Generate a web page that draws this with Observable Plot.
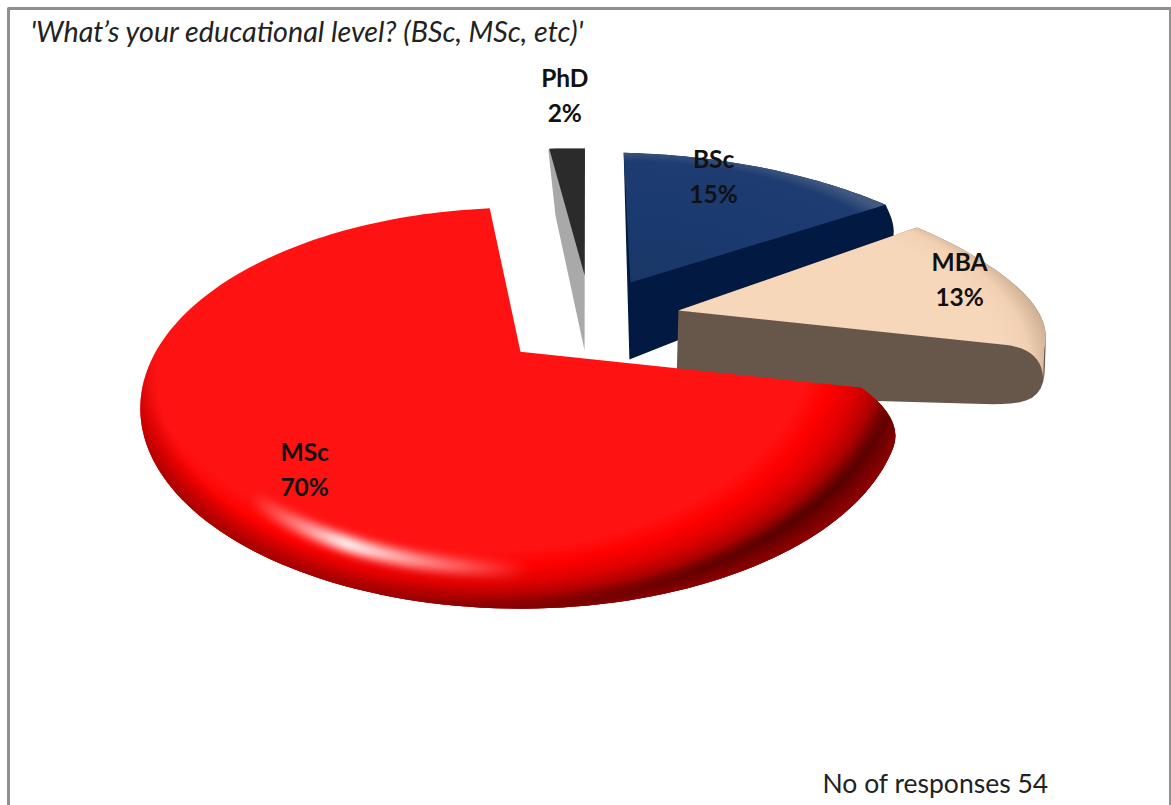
<!DOCTYPE html>
<html>
<head>
<meta charset="utf-8">
<script src="https://cdn.jsdelivr.net/npm/d3@7"></script>
<script src="https://cdn.jsdelivr.net/npm/@observablehq/plot@0.6"></script>
<style>
  html, body { margin: 0; padding: 0; background: #fff; overflow: hidden; }
</style>
</head>
<body>
<div id="chart"></div>
<script>
// Survey answers
const categories = ["BSc", "MBA", "MSc", "PhD"];
const shares = [15, 13, 70, 2];
const responses = 54;
const question = "'What\u2019s your educational level? (BSc, MSc, etc)'";

// Ground-plane perspective: u runs right, v runs away from the viewer
const DEPTH = 3.55, RISE = 2326, HORIZON = -304, FOCAL = 1295, CENTER_X = 520;
const project = (u, v) => ({
  x: CENTER_X + FOCAL * u / (DEPTH + v),
  y: HORIZON + RISE / (DEPTH + v)
});
const rad = (deg) => deg * Math.PI / 180;
const polar = (o, r, deg) => project(o.u + r * Math.sin(rad(deg)), o.v + r * Math.cos(rad(deg)));

// Explosion offset, radius, body and label placement of each slice
const sliceLayout = {
  BSc: {u: 0.337, v: 0.419, r: 1.13, turn: 1,
        foot: {u: 0.295, v: -0.042, arcs: [[1.08, 54, 54]]}, bulge: 8,
        label: [0.948, 23.9], top: "url(#bscTop)", side: "#021a42"},
  MBA: {u: 0.462, v: 0.238, r: 1.06, turn: -0.5, roundEnd: [0.055, 22], shoulder: 0.85,
        foot: {u: 0.4, v: -0.222, arcs: [[0.8, 88, 93]]}, bulge: 25,
        label: [0.91, 77.6], top: "url(#mbaTop)", side: "#67574a"},
  MSc: {u: 0, v: 0, r: 1, turn: -1.5, round: [0.095, 15],
        label: [0.74, 222.6], top: "#ff1212"},
  PhD: {u: 0.199, v: 0.467, r: 1.13, turn: 0.4,
        foot: {u: 0.176, v: 0.007, arcs: [[0.927, -3.4, -3.4], [1.567, -2.4, -2.4]]}, bulge: 0,
        label: [1.8, 0], top: "#2b2b2b", side: "#a9a9a9"}
};

// Turn the shares into clockwise angles measured from the top
const FIRST_ANGLE = 2.5;
let running = FIRST_ANGLE;
const slices = categories.map((name, i) => {
  const span = shares[i] * 3.6;
  const layout = sliceLayout[name];
  const slice = {name, share: shares[i], a0: running + layout.turn, a1: running + span + layout.turn, ...layout};
  running += span;
  return slice;
});

// Points along a rim; round eases the radius in at the first angle, roundEnd at the last
function arcPoints(o, r, a0, a1, round, roundEnd) {
  const steps = Math.max(2, Math.ceil(Math.abs(a1 - a0) / 1.5));
  return d3.range(steps + 1).map((k) => {
    const a = a0 + (a1 - a0) * k / steps;
    let radius = r;
    if (round) {
      const t = 1 - (a - a0) / round[1];
      if (t > 0) radius -= round[0] * t * t;
    }
    if (roundEnd) {
      const t = 1 - (a1 - a) / roundEnd[1];
      if (t > 0) radius -= roundEnd[0] * t * t;
    }
    return polar(o, radius, a);
  });
}

// The rounded end between the top face and the foot, as points running downward
function endCurve(s) {
  const top = arcPoints(s, s.r, s.a0, s.a1, s.round, s.roundEnd);
  const A = top.at(-1);
  const B = arcPoints(s.foot, ...s.foot.arcs[0]).at(-1);
  const len = Math.hypot(B.x - A.x, B.y - A.y);
  const nx = (B.y - A.y) / len, ny = (A.x - B.x) / len;
  return d3.range(1, 12).map((k) => {
    const t = k / 12, b = s.bulge * Math.sin(Math.PI * t);
    return {x: A.x + (B.x - A.x) * t + nx * b, y: A.y + (B.y - A.y) * t + ny * b};
  });
}

function topFace(s) {
  const apex = project(s.u, s.v);
  const pts = [apex, ...arcPoints(s, s.r, s.a0, s.a1, s.round, s.roundEnd)];
  if (s.shoulder) {
    // The face wraps over the rounded end and comes back along the cut edge
    const A = pts.at(-1);
    const tip = endCurve(s)[3];
    const edge = polar(s, s.r * s.shoulder, s.a1);
    pts.push(tip);
    d3.range(1, 13).forEach((k) => {
      const t = k / 12, m = 1 - t;
      pts.push({x: m * m * tip.x + 2 * m * t * A.x + t * t * edge.x,
                y: m * m * tip.y + 2 * m * t * A.y + t * t * edge.y});
    });
  }
  return [...pts, apex];
}

// Outline of the whole solid: the top face, its foot and the rounded end between them
function body(s) {
  const top = arcPoints(s, s.r, s.a0, s.a1, s.round, s.roundEnd);
  const footArcs = s.foot.arcs.flatMap(([r, a0, a1]) => arcPoints(s.foot, r, a0, a1));
  const pts = [project(s.u, s.v), ...top, project(s.foot.u, s.foot.v), ...footArcs];
  if (s.bulge) pts.push(...endCurve(s));
  const hull = d3.polygonHull(pts.map((p) => [p.x, p.y])).map(([x, y]) => ({x, y}));
  return [...hull, hull[0]];
}

function labelPoint(s) {
  const p = polar(s, s.label[0], s.label[1]);
  return {...p, text: `${s.name}\n${s.share}%`};
}

const byName = Object.fromEntries(slices.map((s) => [s.name, s]));
const shape = (points, fill) => Plot.line(points, {x: "x", y: "y", fill, stroke: "none", curve: "linear"});

// Gradients used by the faces
function gradients() {
  const svgNS = "http://www.w3.org/2000/svg";
  const defs = document.createElementNS(svgNS, "defs");
  defs.innerHTML = `
    <radialGradient id="bscTop" gradientUnits="userSpaceOnUse" cx="0" cy="0" r="1" gradientTransform="translate(630 334) scale(340 184)">
      <stop offset="0" stop-color="#18355f"/><stop offset="0.7" stop-color="#1b3a70"/><stop offset="0.94" stop-color="#1e3c72"/><stop offset="1" stop-color="#42597f"/>
    </radialGradient>
    <radialGradient id="mbaTop" gradientUnits="userSpaceOnUse" cx="0" cy="0" r="1" gradientTransform="translate(680 361) scale(370 184)">
      <stop offset="0.86" stop-color="#f7d7ba"/><stop offset="0.94" stop-color="#f2d1b3"/><stop offset="1" stop-color="#cfb195"/>
    </radialGradient>
    <radialGradient id="rim" gradientUnits="userSpaceOnUse" cx="0" cy="0" r="1" gradientTransform="translate(475 340) scale(430 270)">
      <stop offset="0.78" stop-color="#ff0000" stop-opacity="0"/>
      <stop offset="0.84" stop-color="#ff0000" stop-opacity="1"/>
      <stop offset="0.9" stop-color="#e00000" stop-opacity="1"/>
      <stop offset="0.95" stop-color="#b00000" stop-opacity="1"/>
      <stop offset="1" stop-color="#4a0000" stop-opacity="1"/>
    </radialGradient>
    <radialGradient id="rimSoft" gradientUnits="userSpaceOnUse" cx="0" cy="0" r="1" gradientTransform="translate(520 370) scale(395 240)">
      <stop offset="0.92" stop-color="#b00000" stop-opacity="0"/>
      <stop offset="1" stop-color="#a00000" stop-opacity="0.75"/>
    </radialGradient>
    <linearGradient id="shine" gradientUnits="userSpaceOnUse" x1="250" y1="0" x2="530" y2="0">
      <stop offset="0" stop-color="#fff" stop-opacity="0"/>
      <stop offset="0.34" stop-color="#fff" stop-opacity="1"/>
      <stop offset="0.62" stop-color="#fff" stop-opacity="0.55"/>
      <stop offset="1" stop-color="#fff" stop-opacity="0"/>
    </linearGradient>`;
  return defs;
}

const phd = byName.PhD, bsc = byName.BSc, mba = byName.MBA, msc = byName.MSc;
const FONT = "Lato, 'Open Sans', sans-serif";

// Three-sided grey frame, open at the bottom of the page
const frameSides = [{x: 8, y: 805}, {x: 8, y: 8}, {x: 1170, y: 8}, {x: 1170, y: 805}];

const chart = Plot.plot({
  width: 1171,
  height: 805,
  margin: 0,
  x: {domain: [0, 1171], range: [0, 1171], axis: null},
  y: {domain: [0, 805], range: [0, 805], axis: null},
  style: {background: "#fff", fontFamily: FONT},
  marks: [
    gradients,
    Plot.line(frameSides, {x: "x", y: "y", stroke: "#8f8f8f", strokeWidth: 3}),
    shape(body(phd), phd.side),
    shape(topFace(phd), phd.top),
    shape(body(bsc), bsc.side),
    shape(topFace(bsc), bsc.top),
    shape(body(mba), mba.side),
    shape(topFace(mba), mba.top),
    shape(topFace(msc), msc.top),
    shape(topFace(msc), "url(#rim)"),
    shape(topFace(msc), "url(#rimSoft)"),
    Plot.line(arcPoints(msc, 0.885, 178, 222), {
      x: "x", y: "y", stroke: "url(#shine)", strokeWidth: 15, imageFilter: "blur(5px)"
    }),
    Plot.text(slices.map(labelPoint), {
      x: "x", y: "y", text: "text", fontSize: 24.5, fontWeight: 700, fill: "#111", lineHeight: 1.43, dy: -3
    }),
    Plot.text([question], {
      x: [30], y: [32], textAnchor: "start", fontSize: 28.7, fontStyle: "italic", fill: "#222"
    }),
    Plot.text([`No of responses ${responses}`], {
      x: [822], y: [784], textAnchor: "start", fontSize: 26.5, fill: "#222"
    })
  ]
});
document.getElementById("chart").append(chart);
</script>
</body>
</html>
